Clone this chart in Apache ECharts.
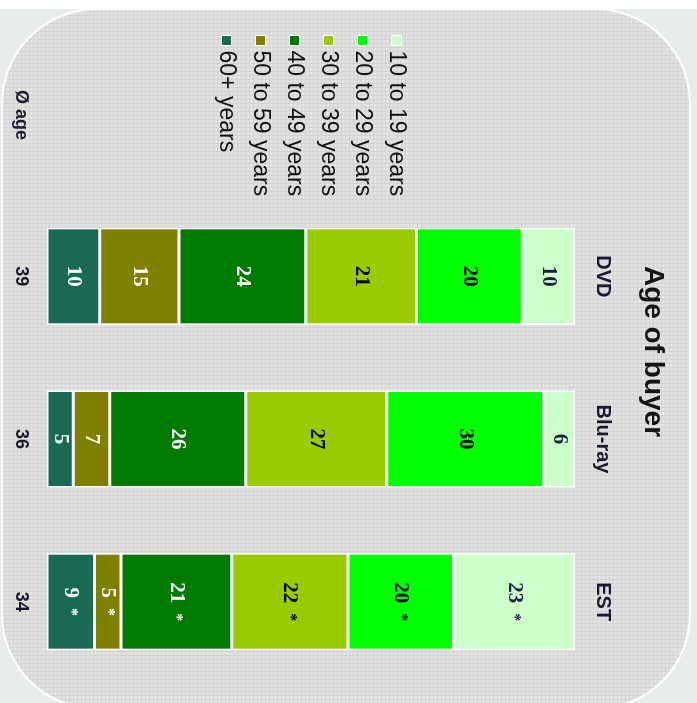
<!DOCTYPE html>
<html>
<head>
<meta charset="utf-8">
<script src="https://cdn.jsdelivr.net/npm/echarts@6/dist/echarts.min.js"></script>
<style>
  html, body { margin: 0; padding: 0; width: 697px; height: 703px; overflow: hidden; background: #e8ecec; }
  /* the chart is laid out upright, then turned a quarter turn clockwise */
  #chart {
    position: absolute; left: 0; top: 0;
    width: 703px; height: 697px;
    transform-origin: 0 0;
    transform: translate(697px, 0) rotate(90deg);
  }
</style>
</head>
<body>
<div id="chart"></div>
<script>
// Buyer age shares (%) per format
const formats = ['DVD', 'Blu-ray', 'EST'];
const ageGroups = ['10 to 19 years', '20 to 29 years', '30 to 39 years', '40 to 49 years', '50 to 59 years', '60+ years'];
const age10to19 = [10, 6, 23];
const age20to29 = [20, 30, 20];
const age30to39 = [21, 27, 22];
const age40to49 = [24, 26, 21];
const age50to59 = [15, 7, 5];
const age60plus = [10, 5, 9];
const averageAge = [39, 36, 34];
const markedFormats = [false, false, true];

const groupValues = [age10to19, age20to29, age30to39, age40to49, age50to59, age60plus];
const groupColors = ['#ccffcc', '#00ff00', '#99cc00', '#007a00', '#808000', '#186a55'];
const labelColors = ['#1a2040', '#000000', '#000000', '#ffffff', '#ffffff', '#ffffff'];

// each column is shown as a full 100% stack
const totals = formats.map((_, i) => groupValues.reduce((s, g) => s + g[i], 0));

// fine grid texture for the panel
const tile = document.createElement('canvas');
tile.width = 4; tile.height = 4;
const tctx = tile.getContext('2d');
tctx.fillStyle = '#e3e3e3';
tctx.fillRect(0, 0, 4, 4);
tctx.fillStyle = '#d3d3d3';
tctx.fillRect(0, 3, 4, 1);
tctx.fillRect(3, 0, 1, 4);

const chart = echarts.init(document.getElementById('chart'), null, { renderer: 'canvas' });

// stack from the bottom: oldest group first
const series = [];
for (let k = ageGroups.length - 1; k >= 0; k--) {
  const raw = groupValues[k];
  series.push({
    name: ageGroups[k],
    type: 'bar',
    stack: 'share',
    barWidth: 97,
    data: raw.map((v, i) => v / totals[i] * 100),
    itemStyle: { color: groupColors[k], borderColor: '#ffffff', borderWidth: 1.5 },
    label: {
      show: true,
      position: 'inside',
      fontFamily: 'Liberation Serif',
      fontWeight: 'bold',
      fontSize: 21,
      color: labelColors[k],
      formatter: p => '{v|' + raw[p.dataIndex] + '}' + (markedFormats[p.dataIndex] ? '{s|*}' : ''),
      rich: {
        v: { fontFamily: 'Liberation Serif', fontWeight: 'bold', fontSize: 21, color: labelColors[k] },
        s: { fontFamily: 'Liberation Serif', fontSize: 16, color: labelColors[k], padding: [0, 0, 0, 10] }
      }
    },
    emphasis: { disabled: true }
  });
}

chart.setOption({
  animation: false,
  backgroundColor: '#e8ecec',
  title: {
    text: 'Age of buyer',
    left: 'center',
    top: 25,
    textStyle: { fontFamily: 'Liberation Sans', fontSize: 28, fontWeight: 'bold', color: '#151515' }
  },
  legend: {
    orient: 'vertical',
    left: 30,
    top: 284,
    data: ageGroups,
    icon: 'rect',
    itemWidth: 10,
    itemHeight: 10,
    itemGap: 11,
    itemStyle: { borderColor: '#ffffff', borderWidth: 1 },
    textStyle: { fontFamily: 'Liberation Sans', fontSize: 23, lineHeight: 23, color: '#111111' }
  },
  graphic: [
    {
      type: 'rect', z: -10, silent: true,
      shape: { x: 0, y: 0, width: 9, height: 697 },
      style: { fill: '#ffffff' }
    },
    {
      type: 'rect', z: -9, silent: true,
      shape: { x: 9, y: 7, width: 700, height: 688, r: 95 },
      style: { fill: { image: tile, repeat: 'repeat' }, stroke: '#ffffff', lineWidth: 2 }
    },
    {
      type: 'text', silent: true,
      x: 115, y: 676,
      style: {
        text: 'Ø age', fontFamily: 'Liberation Sans', fontWeight: 'bold', fontSize: 18,
        fill: '#1a1a2e', align: 'center', verticalAlign: 'middle'
      }
    }
  ],
  grid: { left: 195, right: 20, top: 122, bottom: 47 },
  xAxis: [
    {
      type: 'category',
      position: 'top',
      data: formats,
      axisLine: { show: false },
      axisTick: { show: false },
      axisLabel: { margin: 18, fontFamily: 'Liberation Sans', fontWeight: 'bold', fontSize: 20, color: '#1a1a2e' }
    },
    {
      type: 'category',
      position: 'bottom',
      data: averageAge.map(String),
      axisLine: { show: false },
      axisTick: { show: false },
      axisLabel: { margin: 17, fontFamily: 'Liberation Sans', fontWeight: 'bold', fontSize: 18, color: '#1a1a2e' }
    }
  ],
  yAxis: {
    type: 'value',
    min: 0,
    max: 100,
    show: false,
    splitLine: { show: false }
  },
  series: series
});
</script>
</body>
</html>
